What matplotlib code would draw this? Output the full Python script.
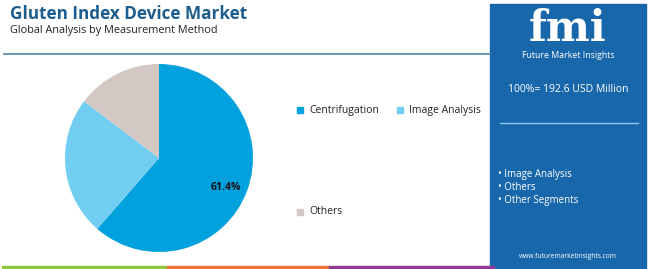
import matplotlib.pyplot as plt
from matplotlib.patches import Rectangle

# data
segments = ['Centrifugation', 'Image Analysis', 'Others']
shares = [61.4, 23.9, 14.7]
colors = ['#00A1DC', '#72CEF0', '#D4C8C4']
panel_items = ['Image Analysis', 'Others', 'Other Segments']
total_text = '100%= 192.6 USD Million'

W, H = 650, 269
fig = plt.figure(figsize=(W / 100, H / 100), dpi=100)
fig.patch.set_facecolor('white')
plt.rcParams['font.family'] = ['Open Sans', 'DejaVu Sans']


def px(x, y):
    # pixel coords (top-left origin) -> figure fraction
    return x / W, 1 - y / H


# title
fig.text(*px(10, 14), 'Gluten Index Device Market', fontsize=12.3, fontweight='bold',
         color='#1C5D8E', va='center', ha='left')
fig.text(*px(10, 31), 'Global Analysis by Measurement Method', fontsize=7.8,
         color='#222222', va='center', ha='left')
fig.add_artist(plt.Line2D([4 / W, 490 / W], [1 - 53.5 / H] * 2, color='#4F86AE', lw=1.2))

# pie
cx, cy, r = 159, 158, 94
ax = fig.add_axes([(cx - r) / W, 1 - (cy + r) / H, 2 * r / W, 2 * r / H])
wedges, _ = ax.pie(shares, colors=colors, startangle=90, counterclock=False,
                   wedgeprops=dict(linewidth=0))
ax.set_xlim(-1, 1)
ax.set_ylim(-1, 1)
ax.set_aspect('equal')
ax.text(0.71, -0.31, f'{shares[0]}%', fontsize=7.5, fontweight='bold', color='#111111',
        ha='center', va='center')

# legend
leg_pos = [(300, 110), (400, 110), (300, 212)]
for (lx, ly), name, c in zip(leg_pos, segments, colors):
    fig.add_artist(Rectangle(((lx - 3) / W, 1 - (ly + 3) / H), 6 / W, 6 / H, color=c,
                             transform=fig.transFigure))
    fig.text(*px(lx + 9, ly), name, fontsize=7.5, color='#222222', va='center', ha='left')

# right panel
fig.add_artist(Rectangle((490 / W, 0), 156 / W, 1 - 4 / H, color='#1867AB',
                         transform=fig.transFigure))
fig.text(*px(568, 29), 'fmi', fontsize=30, fontweight='bold', color='white',
         family='DejaVu Serif', ha='center', va='center')
fig.text(*px(568, 55), 'Future Market Insights', fontsize=6.3, color='white',
         ha='center', va='center')
fig.text(*px(568, 90), total_text, fontsize=7.5, color='white', ha='center', va='center')
fig.add_artist(plt.Line2D([500 / W, 638 / W], [1 - 123 / H] * 2, color='#8CC4EA', lw=1))
for i, item in enumerate(panel_items):
    fig.text(*px(498, 174 + 13.5 * i), '• ' + item, fontsize=7, color='white',
             ha='left', va='center')
fig.text(*px(568, 257), 'www.futuremarketinsights.com', fontsize=4.8, color='white',
         ha='center', va='center')

# bottom stripe
for x0, x1, c in [(2, 167, '#8DC63F'), (167, 329, '#E8743B'), (329, 494, '#8E3C97')]:
    fig.add_artist(Rectangle((x0 / W, 0), (x1 - x0) / W, 3 / H, color=c,
                             transform=fig.transFigure))

fig.savefig('out.png', dpi=100)
